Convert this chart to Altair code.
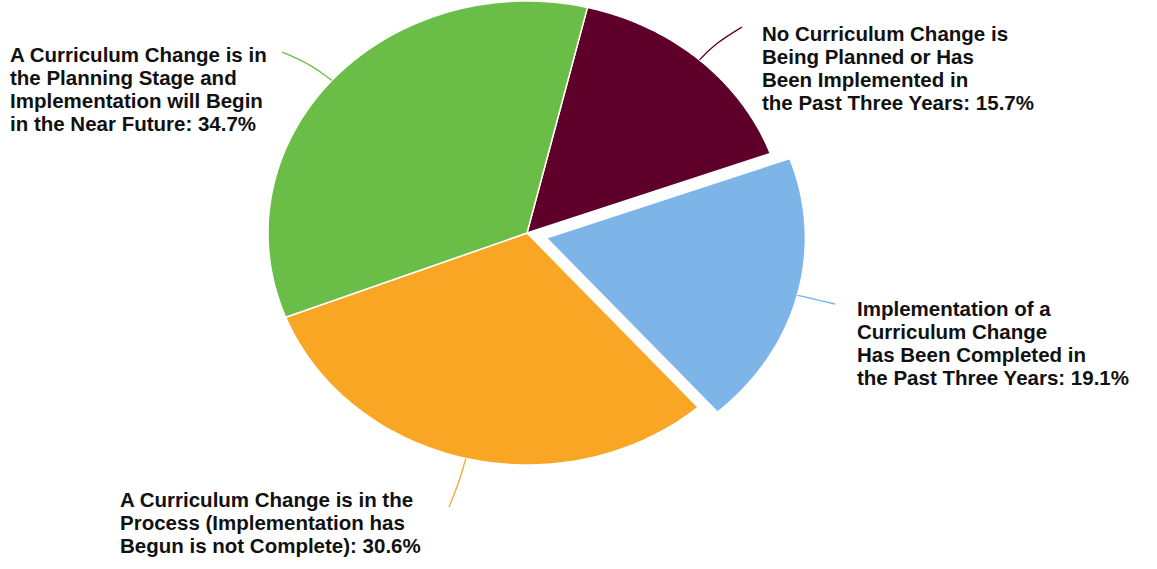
import altair as alt
import pandas as pd

# ---------------- data ----------------
categories = [
    "No Curriculum Change",
    "Change Completed",
    "Change in Process",
    "Change in Planning",
]
shares = [15.7, 19.1, 30.6, 34.7]
colors = ["#5E0029", "#7DB5E9", "#F9A624", "#6ABD46"]
label_texts = [
    "No Curriculum Change is\nBeing Planned or Has\nBeen Implemented in\nthe Past Three Years: 15.7%",
    "Implementation of a\nCurriculum Change\nHas Been Completed in\nthe Past Three Years: 19.1%",
    "A Curriculum Change is in the\nProcess (Implementation has\n\u00a0Begun is not Complete): 30.6%",
    "A Curriculum Change is in\nthe Planning Stage and\nImplementation will Begin\nin the Near Future: 34.7%",
]

# ---------------- layout ----------------
W, H = 1157, 569
CX, CY, RX, RY = 527, 233, 259, 232      # pie centre and radii (px)
START = 13.5 * 3.141592653589793 / 180   # start angle (rad, clockwise from 12 o'clock)
N = 90                                   # arc resolution
explode_px = [0, 20, 0, 0]
label_x = [762, 857, 120, 10]
label_y = [41, 316, 507, 62]             # first baseline
leader_end_x = [742, 835, 449, 282]
leader_end_y = [27, 304, 507, 52]

df = pd.DataFrame({
    "cat": categories,
    "share": shares,
    "idx": list(range(len(categories))),
    "explode": explode_px,
    "ex": leader_end_x,
    "ey": leader_end_y,
})
labels = pd.DataFrame({"text": label_texts, "lx": label_x, "ly": label_y})

xs = alt.Scale(domain=[0, W], range=[0, W], nice=False, zero=False)
ys = alt.Scale(domain=[0, H], range=[0, H], nice=False, zero=False)
col = alt.Color("cat:N", scale=alt.Scale(domain=categories, range=colors), legend=None)

base = (
    alt.Chart(df)
    .transform_joinaggregate(total="sum(share)")
    .transform_window(cum="sum(share)", sort=[alt.SortField("idx")], frame=[None, 0])
    .transform_calculate(a0=f"{START} + 2*PI*(datum.cum - datum.share)/datum.total")
    .transform_calculate(a1=f"{START} + 2*PI*datum.cum/datum.total")
    .transform_calculate(mid="(datum.a0 + datum.a1)/2")
    .transform_calculate(ox="datum.explode*sin(datum.mid)")
    .transform_calculate(oy="-datum.explode*cos(datum.mid)")
)

pie = (
    base.transform_calculate(k=f"sequence(-1, {N + 2})")
    .transform_flatten(["k"])
    .transform_calculate(t=f"datum.a0 + (datum.a1 - datum.a0)*clamp(datum.k, 0, {N})/{N}")
    .transform_calculate(inside=f"(datum.k < 0 || datum.k > {N}) ? 0 : 1")
    .transform_calculate(px=f"{CX} + datum.ox + datum.inside*{RX}*sin(datum.t)")
    .transform_calculate(py=f"{CY} + datum.oy - datum.inside*{RY}*cos(datum.t)")
    .mark_line(filled=True, stroke="white", strokeWidth=1.5, strokeJoin="round")
    .encode(
        x=alt.X("px:Q", scale=xs, axis=None),
        y=alt.Y("py:Q", scale=ys, axis=None),
        color=col,
        order=alt.Order("k:Q"),
    )
)

leaders = (
    base.transform_calculate(k="sequence(0, 3)")
    .transform_flatten(["k"])
    .transform_calculate(r="datum.k == 0 ? 1 : 1.1")
    .transform_calculate(
        px=f"datum.k == 2 ? datum.ex : {CX} + datum.ox + datum.r*{RX}*sin(datum.mid)"
    )
    .transform_calculate(
        py=f"datum.k == 2 ? datum.ey : {CY} + datum.oy - datum.r*{RY}*cos(datum.mid)"
    )
    .mark_line(interpolate="basis", strokeWidth=1.3)
    .encode(
        x=alt.X("px:Q", scale=xs, axis=None),
        y=alt.Y("py:Q", scale=ys, axis=None),
        color=col,
        order=alt.Order("k:Q"),
    )
)

text = (
    alt.Chart(labels)
    .mark_text(
        align="left",
        baseline="alphabetic",
        font="Liberation Sans",
        fontSize=20.5,
        fontWeight="bold",
        lineBreak="\n",
        lineHeight=23,
        color="#111111",
    )
    .encode(
        x=alt.X("lx:Q", scale=xs, axis=None),
        y=alt.Y("ly:Q", scale=ys, axis=None),
        text="text:N",
    )
)

chart = (
    alt.layer(pie, leaders, text)
    .properties(width=W, height=H, padding=0, autosize=alt.AutoSizeParams(type="none"))
    .configure_view(stroke=None)
)

chart.save("out.html", embed_options={"renderer": "svg", "actions": False})
